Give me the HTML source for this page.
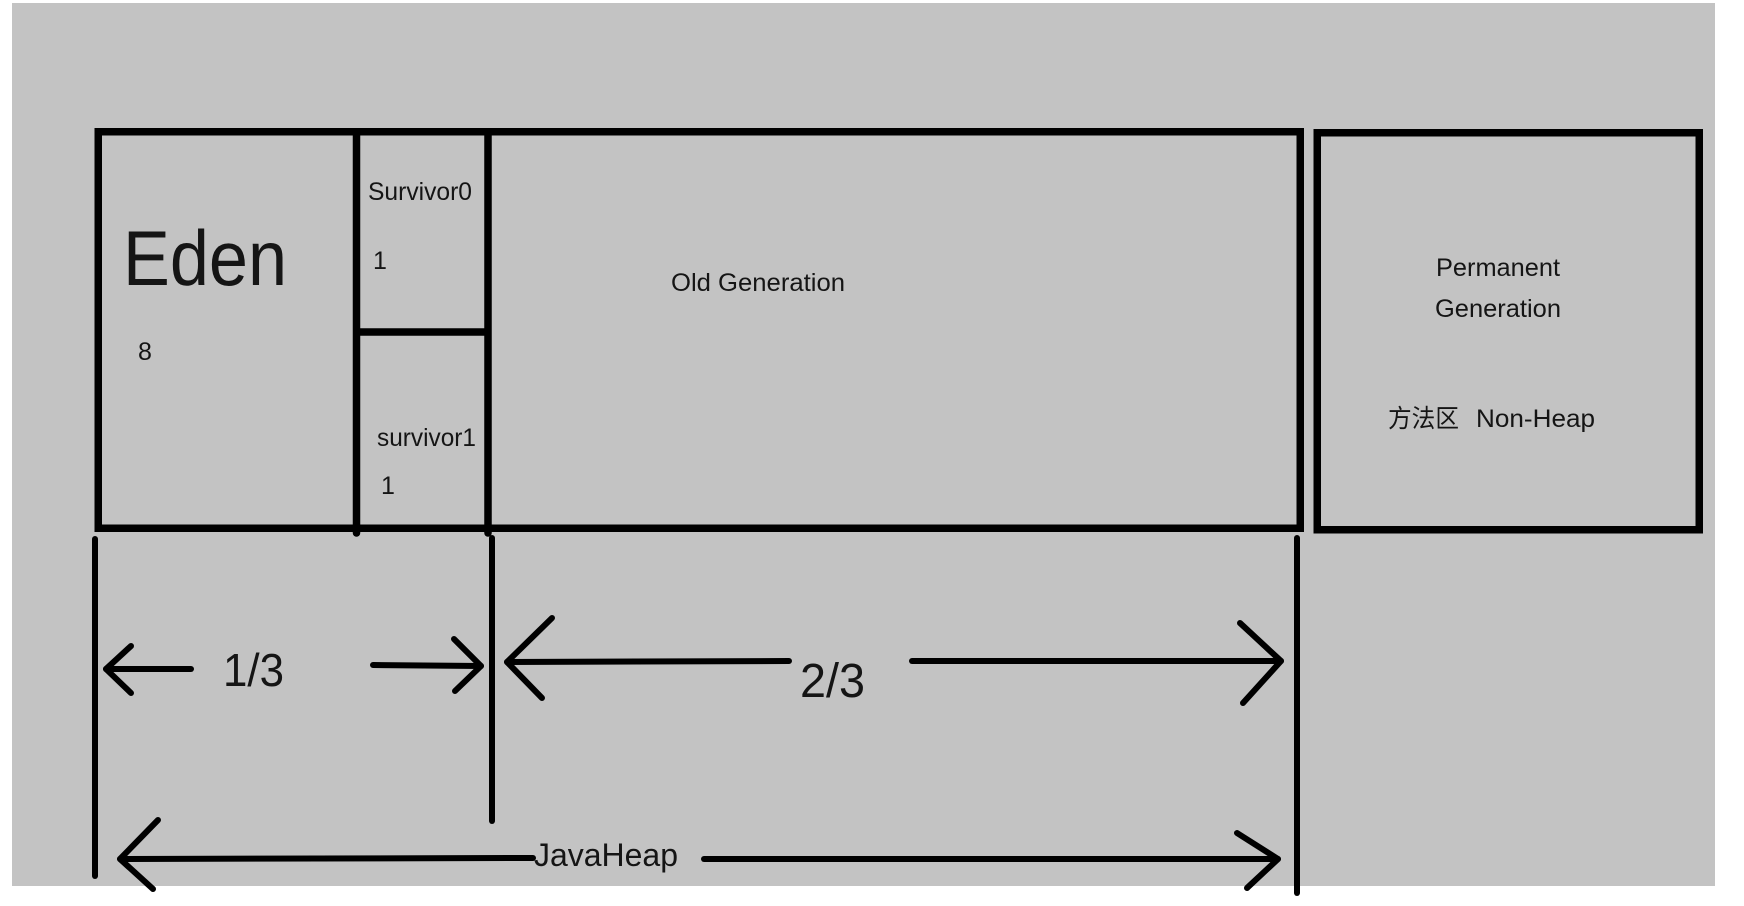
<!DOCTYPE html>
<html>
<head>
<meta charset="utf-8">
<style>
  html,body{margin:0;padding:0;background:#ffffff;}
  svg{display:block;}
  text{font-family:"Liberation Sans","Noto Sans CJK SC",sans-serif;fill:#151515;}
</style>
</head>
<body>
<svg width="1744" height="906" viewBox="0 0 1744 906" xmlns="http://www.w3.org/2000/svg">
  <rect x="0" y="0" width="1744" height="906" fill="#ffffff"/>
  <rect x="12" y="3" width="1703" height="883" fill="#c3c3c3"/>

  <!-- main heap box -->
  <g fill="none" stroke="#000" stroke-width="7.5">
    <rect x="98.25" y="131.75" width="1202" height="396.5"/>
    <rect x="1317.25" y="132.75" width="382" height="397"/>
  </g>
  <g stroke="#000" stroke-width="7.5" stroke-linecap="round">
    <line x1="356.5" y1="132" x2="356.5" y2="533"/>
    <line x1="488" y1="132" x2="488" y2="533"/>
    <line x1="357" y1="332" x2="488" y2="332" stroke-linecap="butt"/>
  </g>

  <!-- labels in boxes -->
  <text x="123" y="285" font-size="78" textLength="164" lengthAdjust="spacingAndGlyphs">Eden</text>
  <text x="145" y="360" font-size="25" text-anchor="middle">8</text>
  <text x="368" y="200" font-size="25" textLength="104" lengthAdjust="spacingAndGlyphs">Survivor0</text>
  <text x="380" y="269" font-size="25" text-anchor="middle">1</text>
  <text x="377" y="446" font-size="25" textLength="99" lengthAdjust="spacingAndGlyphs">survivor1</text>
  <text x="388" y="494" font-size="25" text-anchor="middle">1</text>
  <text x="671" y="291" font-size="25" textLength="174" lengthAdjust="spacingAndGlyphs">Old Generation</text>
  <text x="1436" y="276" font-size="25" textLength="124" lengthAdjust="spacingAndGlyphs">Permanent</text>
  <text x="1435" y="317" font-size="25" textLength="126" lengthAdjust="spacingAndGlyphs">Generation</text>
  <text x="1388" y="427" font-size="25" textLength="71" lengthAdjust="spacingAndGlyphs">方法区</text>
  <text x="1476" y="427" font-size="25" textLength="119" lengthAdjust="spacingAndGlyphs">Non-Heap</text>

  <!-- dimension lines -->
  <g stroke="#000" stroke-width="6" stroke-linecap="round" stroke-linejoin="round" fill="none">
    <line x1="95" y1="539" x2="95" y2="876"/>
    <line x1="492" y1="538" x2="492" y2="821"/>
    <line x1="1297" y1="538" x2="1297" y2="893"/>

    <!-- 1/3 -->
    <line x1="106" y1="669" x2="191" y2="669"/>
    <polyline points="131,646 106,669 131,693"/>
    <line x1="373" y1="665" x2="481" y2="666"/>
    <polyline points="454,639 481,666 455,691"/>

    <!-- 2/3 -->
    <line x1="507" y1="662" x2="789" y2="661"/>
    <polyline points="552,618 507,662 542,698"/>
    <line x1="912" y1="661" x2="1281" y2="661"/>
    <polyline points="1240,623 1281,661 1243,703"/>

    <!-- JavaHeap -->
    <line x1="120" y1="859" x2="533" y2="858"/>
    <polyline points="158,820 120,859 153,889"/>
    <line x1="704" y1="859" x2="1278" y2="859"/>
    <polyline points="1237,833 1278,859 1247,888"/>
  </g>

  <text x="223" y="686" font-size="46" textLength="61" lengthAdjust="spacingAndGlyphs">1/3</text>
  <text x="800" y="697" font-size="48" textLength="65" lengthAdjust="spacingAndGlyphs">2/3</text>
  <text x="534" y="866" font-size="32" textLength="144" lengthAdjust="spacingAndGlyphs">JavaHeap</text>
</svg>
</body>
</html>
